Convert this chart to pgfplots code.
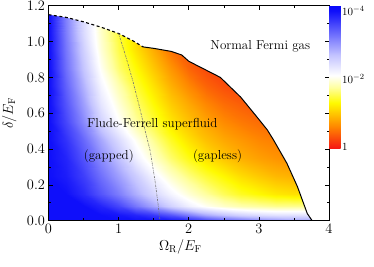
\documentclass[border=0pt]{standalone}
\usepackage{pgfplots}
\pgfplotsset{compat=1.18}
\begin{document}
\begin{tikzpicture}
\useasboundingbox (-48.5pt,-45.3pt) rectangle (325.5pt,220.7pt);
\begin{axis}[
  at={(0,0)}, anchor=south west,
  scale only axis, width=280.5pt, height=215pt,
  xmin=0, xmax=4, ymin=0, ymax=1.2,
  xtick={0,1,2,3,4}, minor x tick num=1,
  ytick={0,0.2,0.4,0.6,0.8,1.0,1.2}, minor y tick num=1,
  yticklabel style={/pgf/number format/fixed, /pgf/number format/fixed zerofill, /pgf/number format/precision=1},
  tick align=inside,
  major tick length=4pt, minor tick length=2.5pt,
  tick style={black, line width=0.6pt},
  axis line style={line width=0.8pt},
  axis on top,
  font=\fontsize{13}{16}\selectfont,
  ticklabel style={font=\fontsize{13.5}{16}\selectfont},
  xlabel={$\Omega_\mathrm{R}/E_\mathrm{F}$},
  ylabel={$\delta/E_\mathrm{F}$},
  xlabel style={at={(axis description cs:0.47,0)}, anchor=north, yshift=-15pt, font=\fontsize{14}{16}\selectfont},
  ylabel style={at={(axis description cs:-0.1016,0.5)}, anchor=south, font=\fontsize{14}{16}\selectfont},
  point meta min=-0.05, point meta max=4.15,
  colormap={ff}{rgb255(0cm)=(245,20,20); rgb255(6.5cm)=(255,135,0); rgb255(13.5cm)=(255,250,0); rgb255(18cm)=(255,255,160); rgb255(21.5cm)=(255,255,255); rgb255(27.5cm)=(195,195,255); rgb255(40.5cm)=(15,15,250); rgb255(42cm)=(10,10,250)},
  colorbar,
  colorbar style={
    at={(1,1)}, anchor=north west, xshift=6pt,
    width=11.7pt, height=143pt,
    ytick={0,2,4},
    yticklabels={$1$,$10^{-2}$,$10^{-4}$},
    yticklabel style={font=\fontsize{11}{13}\selectfont, xshift=-2pt},
    axis line style={draw=none},
    major tick length=0pt,
  },
]
\addplot[surf, shader=interp, mesh/cols=17, point meta=explicit] table[meta index=2] {
x y m
0 0 4
0.25 0 4
0.5 0 4
0.75 0 4
1 0 4
1.25 0 4
1.5 0 4
1.75 0 4
2 0 3.9
2.25 0 3.7
2.5 0 3.5
2.75 0 3.35
3 0 3.2
3.25 0 3.1
3.5 0 3.0
3.75 0 3.0
4 0 3.0

0 0.03 4
0.25 0.03 4
0.5 0.03 4
0.75 0.03 4
1 0.03 3.95
1.25 0.03 3.85
1.5 0.03 3.7
1.75 0.03 3.5
2 0.03 3.2
2.25 0.03 2.9
2.5 0.03 2.7
2.75 0.03 2.55
3 0.03 2.45
3.25 0.03 2.4
3.5 0.03 2.4
3.75 0.03 2.4
4 0.03 2.4

0 0.08 4
0.25 0.08 4
0.5 0.08 4
0.75 0.08 3.85
1 0.08 3.6
1.25 0.08 3.25
1.5 0.08 2.9
1.75 0.08 2.55
2 0.08 2.25
2.25 0.08 2.05
2.5 0.08 1.9
2.75 0.08 1.8
3 0.08 1.75
3.25 0.08 1.7
3.5 0.08 1.7
3.75 0.08 1.7
4 0.08 1.7

0 0.15 4
0.25 0.15 4
0.5 0.15 3.8
0.75 0.15 3.5
1 0.15 3.2
1.25 0.15 2.85
1.5 0.15 2.5
1.75 0.15 2.2
2 0.15 1.95
2.25 0.15 1.75
2.5 0.15 1.55
2.75 0.15 1.4
3 0.15 1.3
3.25 0.15 1.2
3.5 0.15 1.15
3.75 0.15 1.15
4 0.15 1.15

0 0.25 4
0.25 0.25 3.9
0.5 0.25 3.65
0.75 0.25 3.3
1 0.25 2.95
1.25 0.25 2.6
1.5 0.25 2.2
1.75 0.25 1.9
2 0.25 1.65
2.25 0.25 1.45
2.5 0.25 1.28
2.75 0.25 1.12
3 0.25 1.0
3.25 0.25 0.9
3.5 0.25 0.85
3.75 0.25 0.85
4 0.25 0.85

0 0.35 4
0.25 0.35 3.85
0.5 0.35 3.5
0.75 0.35 3.1
1 0.35 2.7
1.25 0.35 2.25
1.5 0.35 1.9
1.75 0.35 1.6
2 0.35 1.35
2.25 0.35 1.15
2.5 0.35 0.98
2.75 0.35 0.85
3 0.35 0.75
3.25 0.35 0.68
3.5 0.35 0.65
3.75 0.35 0.65
4 0.35 0.65

0 0.45 4
0.25 0.45 3.75
0.5 0.45 3.35
0.75 0.45 2.9
1 0.45 2.45
1.25 0.45 2.05
1.5 0.45 1.7
1.75 0.45 1.4
2 0.45 1.15
2.25 0.45 0.95
2.5 0.45 0.8
2.75 0.45 0.7
3 0.45 0.6
3.25 0.45 0.55
3.5 0.45 0.52
3.75 0.45 0.52
4 0.45 0.52

0 0.55 4
0.25 0.55 3.6
0.5 0.55 3.1
0.75 0.55 2.55
1 0.55 2.1
1.25 0.55 1.75
1.5 0.55 1.45
1.75 0.55 1.18
2 0.55 0.95
2.25 0.55 0.78
2.5 0.55 0.62
2.75 0.55 0.52
3 0.55 0.45
3.25 0.55 0.42
3.5 0.55 0.42
3.75 0.55 0.42
4 0.55 0.42

0 0.65 4
0.25 0.65 3.5
0.5 0.65 2.95
0.75 0.65 2.35
1 0.65 1.95
1.25 0.65 1.6
1.5 0.65 1.3
1.75 0.65 1.02
2 0.65 0.8
2.25 0.65 0.6
2.5 0.65 0.45
2.75 0.65 0.37
3 0.65 0.33
3.25 0.65 0.33
3.5 0.65 0.33
3.75 0.65 0.33
4 0.65 0.33

0 0.75 4
0.25 0.75 3.4
0.5 0.75 2.8
0.75 0.75 2.2
1 0.75 1.8
1.25 0.75 1.45
1.5 0.75 1.15
1.75 0.75 0.85
2 0.75 0.6
2.25 0.75 0.4
2.5 0.75 0.28
2.75 0.75 0.25
3 0.75 0.25
3.25 0.75 0.25
3.5 0.75 0.25
3.75 0.75 0.25
4 0.75 0.25

0 0.85 4
0.25 0.85 3.3
0.5 0.85 2.65
0.75 0.85 2.05
1 0.85 1.6
1.25 0.85 1.3
1.5 0.85 0.98
1.75 0.85 0.68
2 0.85 0.4
2.25 0.85 0.25
2.5 0.85 0.2
2.75 0.85 0.2
3 0.85 0.2
3.25 0.85 0.2
3.5 0.85 0.2
3.75 0.85 0.2
4 0.85 0.2

0 0.95 4
0.25 0.95 3.25
0.5 0.95 2.55
0.75 0.95 1.95
1 0.95 1.5
1.25 0.95 1.15
1.5 0.95 0.82
1.75 0.95 0.48
2 0.95 0.3
2.25 0.95 0.22
2.5 0.95 0.18
2.75 0.95 0.18
3 0.95 0.18
3.25 0.95 0.18
3.5 0.95 0.18
3.75 0.95 0.18
4 0.95 0.18

0 1.05 4
0.25 1.05 3.2
0.5 1.05 2.45
0.75 1.05 1.9
1 1.05 1.45
1.25 1.05 1.1
1.5 1.05 0.8
1.75 1.05 0.5
2 1.05 0.3
2.25 1.05 0.22
2.5 1.05 0.18
2.75 1.05 0.18
3 1.05 0.18
3.25 1.05 0.18
3.5 1.05 0.18
3.75 1.05 0.18
4 1.05 0.18

0 1.2 4
0.25 1.2 3.15
0.5 1.2 2.4
0.75 1.2 1.85
1 1.2 1.4
1.25 1.2 1.05
1.5 1.2 0.75
1.75 1.2 0.5
2 1.2 0.3
2.25 1.2 0.22
2.5 1.2 0.18
2.75 1.2 0.18
3 1.2 0.18
3.25 1.2 0.18
3.5 1.2 0.18
3.75 1.2 0.18
4 1.2 0.18
};
% white mask outside the superfluid region
\addplot[fill=white, draw=none] coordinates {
(0,1.15) (0.25,1.135) (0.5,1.11) (0.75,1.08) (1.0,1.045) (1.2,1.005) (1.35,0.97)
(1.5,0.962) (1.75,0.945) (1.9,0.925) (2.0,0.89) (2.25,0.84) (2.45,0.80) (2.74,0.69)
(2.97,0.58) (3.12,0.507) (3.21,0.45) (3.40,0.32) (3.55,0.19) (3.69,0.04) (3.76,0)
(4.1,0) (4.1,1.3) (0,1.3)
};
% phase boundary
\addplot[black, line width=1.1pt, dash pattern=on 3pt off 2.5pt] coordinates {
(0,1.15) (0.25,1.135) (0.5,1.11) (0.75,1.08) (1.0,1.045) (1.2,1.005) (1.35,0.97)
};
\addplot[black, line width=1.0pt] coordinates {
(1.35,0.97) (1.5,0.962) (1.75,0.945) (1.9,0.925) (2.0,0.89) (2.25,0.84) (2.45,0.80) (2.74,0.69)
(2.97,0.58) (3.12,0.507) (3.21,0.45) (3.40,0.32) (3.55,0.19) (3.69,0.04) (3.76,0) (4,0)
};
% gapped / gapless separation
\addplot[black!55, line width=0.6pt, dash pattern=on 2pt off 1pt on 0.6pt off 1pt] coordinates {
(1.0,1.045) (1.1,0.92) (1.21,0.77) (1.3,0.63) (1.38,0.50) (1.45,0.39) (1.52,0.22) (1.56,0.1) (1.59,0)
};
\node at (axis cs:3.02,0.972) {Normal Fermi gas};
\node at (axis cs:1.48,0.54) {Flude-Ferrell superfluid};
\node at (axis cs:0.86,0.357) {(gapped)};
\node at (axis cs:2.41,0.357) {(gapless)};
\end{axis}
\end{tikzpicture}
\end{document}
